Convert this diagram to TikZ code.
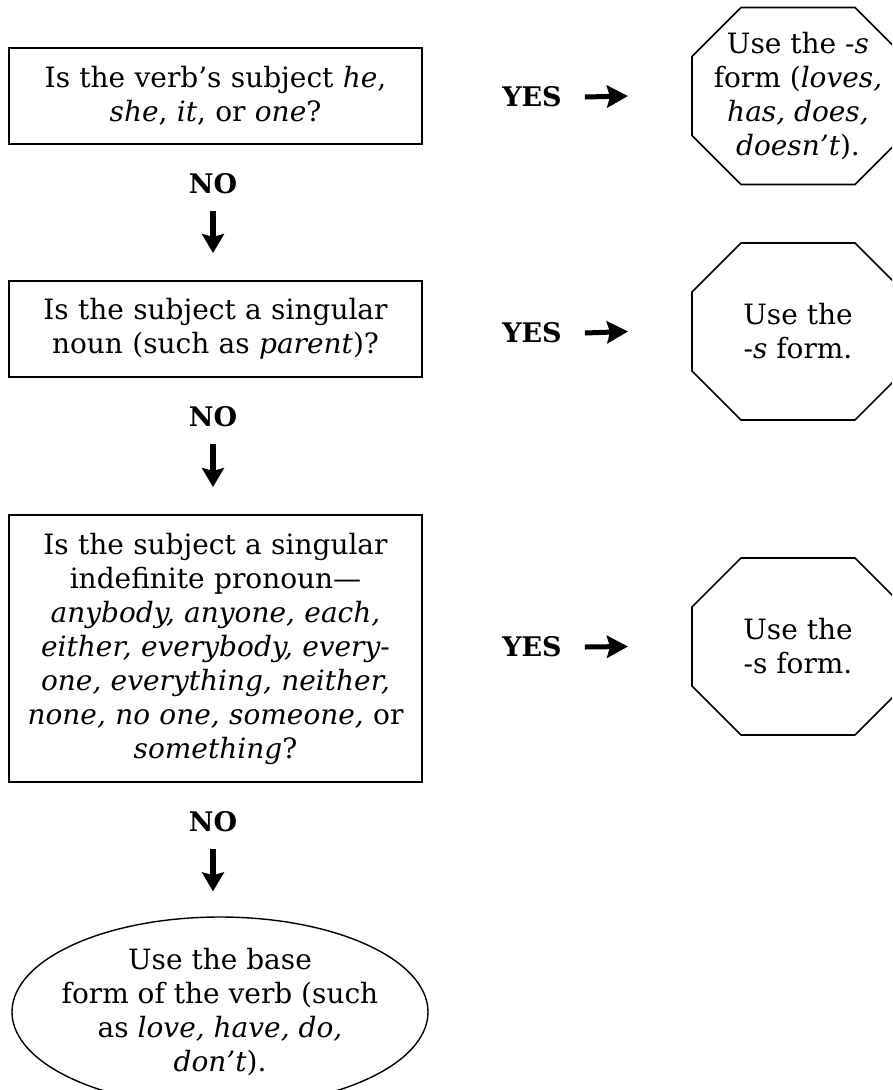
\documentclass[tikz,border=0pt]{standalone}
\usepackage{fontspec}
\setmainfont{DejaVu Serif}
\usetikzlibrary{arrows.meta,shapes.geometric}

% octagon frame round an answer node
\newcommand{\octframe}[1]{%
  \draw[line width=1.6pt] ([xshift=49pt]#1.north west) -- ([xshift=-49pt]#1.north east)
    -- ([yshift=-49pt]#1.north east) -- ([yshift=49pt]#1.south east)
    -- ([xshift=-49pt]#1.south east) -- ([xshift=49pt]#1.south west)
    -- ([yshift=49pt]#1.south west) -- ([yshift=-49pt]#1.north west) -- cycle;}

\begin{document}
\begin{tikzpicture}[x=1pt, y=-1pt,
    txt/.style={font=\fontsize{28}{34}\selectfont, align=center},
    question/.style={txt, draw, line width=1.8pt, minimum width=413pt, text width=405pt, inner sep=0pt, outer sep=0pt},
    answer/.style={txt, minimum width=212pt, minimum height=177pt, inner sep=0pt, outer sep=0pt},
    yesno/.style={font=\fontsize{27}{30}\selectfont\bfseries, inner sep=0pt},
    downarrow/.style={line width=6pt, -{Stealth[length=19pt, width=22pt, inset=3pt]}},
    rightarrow/.style={line width=5pt, -{Stealth[length=21pt, width=22pt, inset=3pt]}}]
    \useasboundingbox (0,0) rectangle (892,1090);
    \clip (0,0) rectangle (892,1090);

    % questions
    \node[question, minimum height=96pt] (q1) at (215.5,96)
        {Is the verb’s subject \textit{he},\\ \textit{she}, \textit{it}, or \textit{one}?};
    \node[question, minimum height=96pt] (q2) at (215.5,329)
        {Is the subject a singular\\ noun (such as \textit{parent})?};
    \node[question, minimum height=267pt] (q3) at (215.5,648.5)
        {Is the subject a singular\\ indefinite pronoun---\\ \textit{anybody, anyone, each,}\\
         \textit{either, everybody, every-}\\ \textit{one, everything, neither,}\\
         \textit{none, no one, someone,} or\\ \textit{something}?};

    % answers
    \node[answer] (a1) at (798,96) {Use the -\textit{s}\\ form (\textit{loves,}\\ \textit{has, does,}\\ \textit{doesn’t}).};
    \node[answer] (a2) at (798,331.5) {Use the\\ -\textit{s} form.};
    \node[answer] (a3) at (798,646.5) {Use the\\ -s form.};
    \octframe{a1}
    \octframe{a2}
    \octframe{a3}
    \node[txt, draw, ellipse, line width=1.4pt, minimum width=416pt, minimum height=190pt,
          inner xsep=-20pt, inner ysep=-10pt] (base) at (220,1012)
        {Use the base\\ form of the verb (such\\ as \textit{love, have, do,}\\ \textit{don’t}).};

    % YES labels
    \node[yesno] (yes1) at (532,97) {YES};
    \node[yesno] (yes2) at (532,333) {YES};
    \node[yesno] (yes3) at (532,647) {YES};
    \draw[rightarrow] ([xshift=23pt]yes1.east) -- ([xshift=-64pt]a1.west);
    \draw[rightarrow] ([xshift=23pt]yes2.east) -- ([xshift=-64pt]a2.west);
    \draw[rightarrow] ([xshift=23pt]yes3.east) -- ([xshift=-64pt]a3.west);

    % NO labels
    \node[yesno] (no1) at (213,184) {NO};
    \node[yesno] (no2) at (213,417) {NO};
    \node[yesno] (no3) at (213,822) {NO};
    \draw[downarrow] ([yshift=-17pt]no1.south) -- ([yshift=28pt]no1.south |- q2.north);
    \draw[downarrow] ([yshift=-17pt]no2.south) -- ([yshift=28pt]no2.south |- q3.north);
    \draw[downarrow] ([yshift=-17pt]no3.south) -- ([yshift=25pt]no3.south |- base.north);
\end{tikzpicture}
\end{document}
